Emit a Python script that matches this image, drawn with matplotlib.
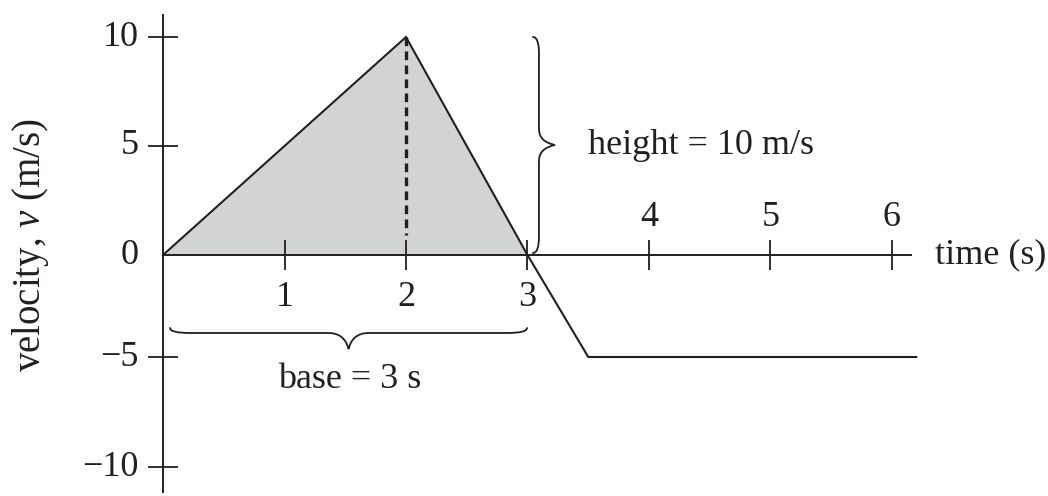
import numpy as np
import matplotlib
matplotlib.use("Agg")
import matplotlib.pyplot as plt
from matplotlib.path import Path
from matplotlib.patches import PathPatch
from matplotlib.transforms import IdentityTransform

plt.rcParams['font.family'] = ['Liberation Serif', 'DejaVu Serif']
plt.rcParams['mathtext.fontset'] = 'custom'
plt.rcParams['mathtext.rm'] = 'Liberation Serif'
plt.rcParams['mathtext.it'] = 'Liberation Serif:italic'

# velocity-time data
time_s = [0, 2, 3, 3.5, 6.2]
velocity = [0, 10, 0, -5, -5]
shade_t = time_s[:3]
shade_v = velocity[:3]

x_ticks = [1, 2, 3, 4, 5, 6]
y_ticks = [-10, -5, 5, 10]
y_labels = [-10, -5, 0, 5, 10]

# the printed axis is not evenly spaced below zero; map it piecewise
y_knots = [-20, -10, -5, 0, 5, 10, 20]
y_pix = [-432, -212, -102, 0, 109, 218, 436]

INK = '#231f20'
SHADE = '#d1d3d4'
FS = 26


def fwd(y):
    return np.interp(y, y_knots, y_pix)


def inv(p):
    return np.interp(p, y_pix, y_knots)


def brace(ax, p0, p1, side, w, h, r):
    # curly brace drawn in pixel space between two data points
    a = ax.transData.transform(p0)
    b = ax.transData.transform(p1)
    d = b - a
    L = np.hypot(*d)
    u = d / L
    n = np.asarray(side, float)

    def P(s, q):
        return a + u * s + n * q

    m = L / 2
    verts = [P(0, 0), P(0, w), P(r, w),
             P(m - r, w), P(m - 0.2 * r, w), P(m, w + h),
             P(m + 0.2 * r, w), P(m + r, w),
             P(L - r, w), P(L, w), P(L, 0)]
    codes = [Path.MOVETO, Path.CURVE3, Path.CURVE3,
             Path.LINETO, Path.CURVE3, Path.CURVE3,
             Path.CURVE3, Path.CURVE3,
             Path.LINETO, Path.CURVE3, Path.CURVE3]
    ax.add_patch(PathPatch(Path(verts, codes), fill=False, lw=1.3,
                           ec=INK, transform=IdentityTransform(),
                           capstyle='round'))


fig = plt.figure(figsize=(10.48, 4.96), dpi=100)
ax = fig.add_axes([0, 0, 1, 1])
ax.set_yscale('function', functions=(fwd, inv))
ax.set_xlim(-1.3416, 7.284)
ax.set_ylim(float(inv(-241)), float(inv(255)))

for s in ['top', 'right']:
    ax.spines[s].set_visible(False)
ax.spines['left'].set_position(('data', 0))
ax.spines['bottom'].set_position(('data', 0))
ax.spines['left'].set_bounds(float(inv(-237)), float(inv(240)))
ax.spines['bottom'].set_bounds(0, 6.16)
for s in ['left', 'bottom']:
    ax.spines[s].set_linewidth(1.4)
    ax.spines[s].set_color(INK)

ax.set_xticks(x_ticks)
ax.set_yticks(y_ticks)
ax.minorticks_off()
ax.tick_params(direction='inout', length=22, width=1.3, color=INK,
               labelbottom=False, labelleft=False)
ax.patch.set_visible(False)

# shaded triangle and velocity line
ax.fill_between(shade_t, shade_v, 0, color=SHADE, lw=0)
ax.plot(time_s, velocity, color=INK, lw=1.5, solid_joinstyle='miter')
ax.plot([2, 2], [10, 0.9], color=INK, lw=2.4, linestyle=(0, (2.6, 1.6)))

# tick labels
for t in x_ticks:
    yy = float(inv(-43)) if t <= 3 else float(inv(37))
    ax.text(t, yy, str(t), fontsize=FS, ha='center', va='center', color=INK)
for v in y_labels:
    ax.text(-0.2, v, f"{v:g}".replace('-', '\u2212'), fontsize=FS,
            ha='right', va='center', color=INK)

ax.text(6.35, 0, 'time (s)', fontsize=FS, ha='left', va='center', color=INK)
ax.text(-1.09, float(inv(10)), r'velocity, $\mathit{v}$ (m/s)', fontsize=28,
        rotation=90, ha='center', va='center', color=INK)

# braces and annotations
brace(ax, (3.045, 10.0), (3.045, float(inv(2))), (1, 0), 6, 16, 16)
brace(ax, (0.058, float(inv(-73))), (2.996, float(inv(-73))), (0, -1), 5, 16, 20)
ax.text(3.5, float(inv(110)), 'height = 10 m/s', fontsize=FS, ha='left',
        va='center', color=INK)
ax.text(1.54, float(inv(-124)), 'base = 3 s', fontsize=FS, ha='center',
        va='center', color=INK)

fig.savefig('out.png', dpi=100)
